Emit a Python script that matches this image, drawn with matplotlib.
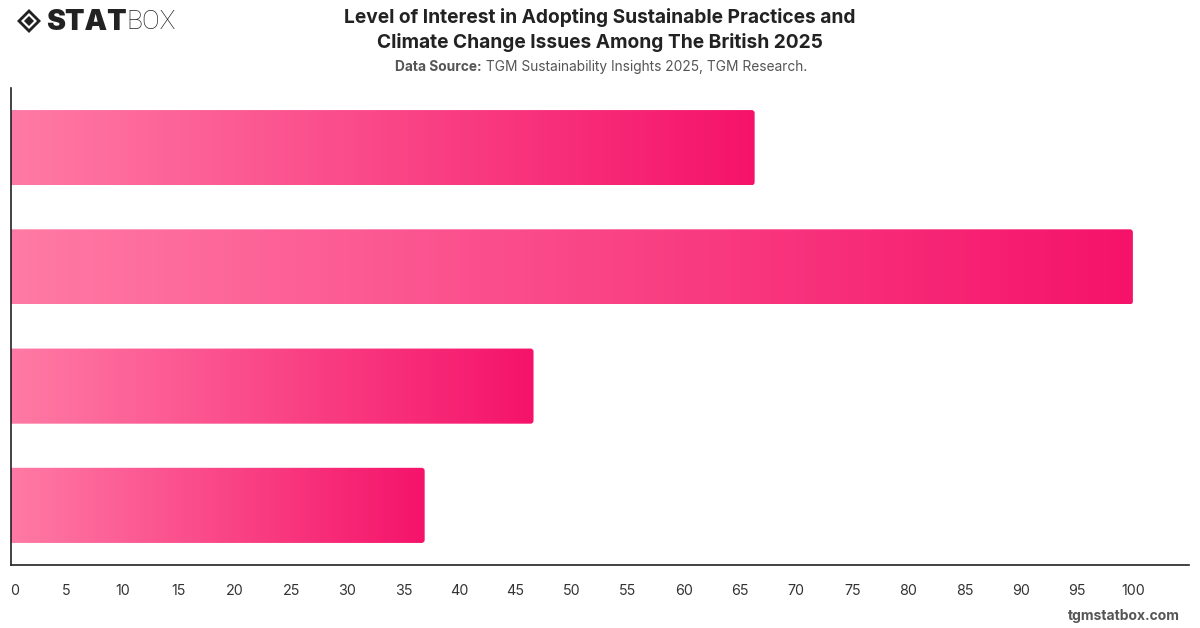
import numpy as np
import matplotlib
matplotlib.use("Agg")
import matplotlib.pyplot as plt
from matplotlib.patches import FancyBboxPatch, Polygon
from matplotlib.colors import LinearSegmentedColormap

plt.rcParams['font.family'] = ['Inter', 'DejaVu Sans']

# Data
categories = ["Category 1", "Category 2", "Category 3", "Category 4"]
values = [66.3, 100.0, 46.6, 36.9]
x_ticks = list(range(0, 105, 5))

title = "Level of Interest in Adopting Sustainable Practices and\nClimate Change Issues Among The British 2025"
source_bold = "Data Source:"
source_text = " TGM Sustainability Insights 2025, TGM Research."

W, H = 1200, 628
fig = plt.figure(figsize=(W / 100, H / 100), dpi=100)
fig.patch.set_facecolor("white")

def fx(px):
    return px / W

def fy(py):
    return 1 - py / H

ax = fig.add_axes([fx(10.5), fy(565), fx(1189) - fx(10.5), fy(88) - fy(565)])
ax.set_xlim(0, 105)
ax.set_ylim(len(categories) - 0.5, -0.5)

cmap = LinearSegmentedColormap.from_list("pinkgrad", ["#FF7AA5", "#F5136A"])
grad = np.linspace(0, 1, 256).reshape(1, -1)
bar_h = 0.63
x_per_px = 105 / (1189 - 10.5)
y_per_px = 4 / (565 - 88)
r_x = 3 * x_per_px
r_y = 3 * y_per_px

for i, v in enumerate(values):
    y0 = i - bar_h / 2
    patch = FancyBboxPatch((-2, y0), v + 2, bar_h,
                           boxstyle=f"round,pad=0,rounding_size={r_x}",
                           mutation_aspect=r_y / r_x,
                           facecolor="none", edgecolor="none",
                           transform=ax.transData)
    ax.add_patch(patch)
    im = ax.imshow(grad, cmap=cmap, aspect="auto",
                   extent=(0, v, i + bar_h / 2, y0),
                   interpolation="bilinear", zorder=2)
    im.set_clip_path(patch)

ax.set_xlim(0, 105)
ax.set_ylim(len(categories) - 0.5, -0.5)

ax.set_xticks(x_ticks)
ax.set_xticklabels([str(t) for t in x_ticks], fontsize=10.3, color="#333333")
ax.tick_params(axis="x", length=0, pad=14)
ax.set_yticks([])
for s in ["top", "right"]:
    ax.spines[s].set_visible(False)
for s in ["left", "bottom"]:
    ax.spines[s].set_color("#222222")
    ax.spines[s].set_linewidth(1.2)
labels = ax.get_xticklabels()
labels[0].set_horizontalalignment("left")

# Title
fig.text(fx(600), fy(30), title, ha="center", va="center", fontsize=13.8,
         fontweight="bold", color="#222222", linespacing=1.35)
# Subtitle
t1 = fig.text(fx(600), fy(67), source_bold + source_text, ha="center", va="center",
              fontsize=9.9, color="#555555", alpha=0)
fig.canvas.draw()
bb = t1.get_window_extent()
x_start = bb.x0
tb = fig.text(x_start / W, fy(67), source_bold, ha="left", va="center",
              fontsize=9.9, fontweight="bold", color="#555555")
fig.canvas.draw()
bb2 = tb.get_window_extent()
fig.text(bb2.x1 / W, fy(67), source_text, ha="left", va="center",
         fontsize=9.9, color="#555555")

# Logo
cx, cy = 29, 21
outer = Polygon([(fx(cx - 12), fy(cy)), (fx(cx), fy(cy - 12)), (fx(cx + 12), fy(cy)), (fx(cx), fy(cy + 12))],
                closed=True, transform=fig.transFigure, facecolor="#222222", edgecolor="none")
inner = Polygon([(fx(cx - 8), fy(cy)), (fx(cx), fy(cy - 8)), (fx(cx + 8), fy(cy)), (fx(cx), fy(cy + 8))],
                closed=True, transform=fig.transFigure, facecolor="white", edgecolor="none")
core = Polygon([(fx(cx - 5), fy(cy)), (fx(cx), fy(cy - 5)), (fx(cx + 5), fy(cy)), (fx(cx), fy(cy + 5))],
               closed=True, transform=fig.transFigure, facecolor="#222222", edgecolor="none")
for p in (outer, inner, core):
    fig.patches.append(p)
ts = fig.text(fx(46), fy(22), "STAT", ha="left", va="center", fontsize=20.5,
              fontweight="black", color="#222222")
fig.canvas.draw()
bs = ts.get_window_extent()
fig.text(bs.x1 / W, fy(22), "BOX", ha="left", va="center", fontsize=19,
         fontweight="light", color="#222222", family=["Roboto", "DejaVu Sans"])

# Footer
fig.text(fx(1180), fy(616), "tgmstatbox.com", ha="right", va="center",
         fontsize=10, fontweight="bold", color="#555555")

fig.savefig("out.png", dpi=100, facecolor="white")
